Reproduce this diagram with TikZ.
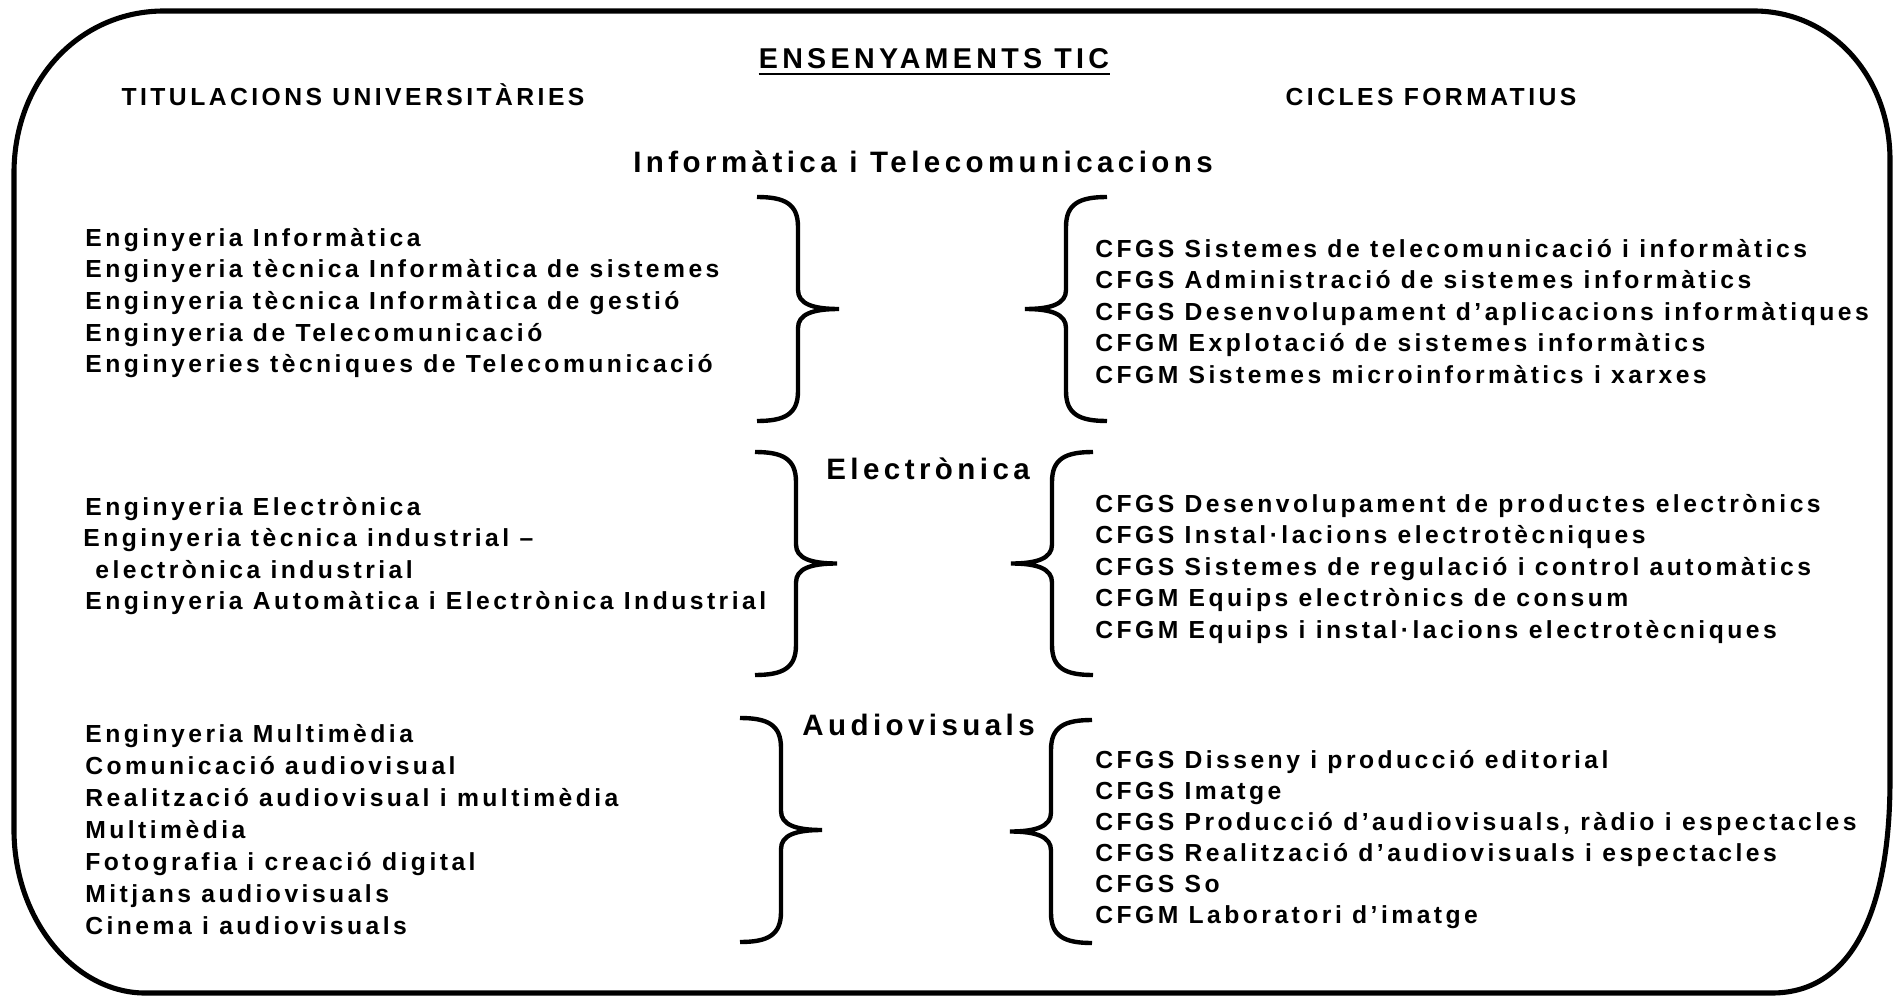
\documentclass[tikz,border=0pt]{standalone}
\usepackage{fontspec}
\setmainfont{Liberation Sans}
\usetikzlibrary{calc}

\tikzset{
  item/.style={anchor=base west, inner sep=0pt,
    font=\fontsize{14.05}{17}\selectfont\bfseries\addfontfeature{LetterSpace=14}},
  heading/.style={anchor=base west, inner sep=0pt,
    font=\fontsize{16.8}{20}\selectfont\bfseries\addfontfeature{LetterSpace=15}},
  bracestroke/.style={line width=2.5pt},
  frame/.style={line width=2.9pt},
}

% curly brace: #1 top end, #2 height, #3 side (1 = points right, -1 = points left)
\newcommand{\curly}[3]{%
  \begin{scope}[shift={(#1)}, xscale=#3]
    \draw[bracestroke] (0,0) .. controls (28,0) and (41,7) .. (41,30)
      -- (41,#2/2-19) .. controls (41,#2/2-5) and (56,#2/2) .. (82,#2/2)
      .. controls (56,#2/2) and (41,#2/2+5) .. (41,#2/2+19)
      -- (41,#2-30) .. controls (41,#2-7) and (28,#2) .. (0,#2);
  \end{scope}}

\begin{document}
\begin{tikzpicture}[x=0.02cm, y=-0.02cm]
  \useasboundingbox (0,0) rectangle (1898,997);

  % outer frame
  \draw[frame] (164,11) -- (1754,11)
    .. controls (1830,11) and (1890,75) .. (1890,160)
    -- (1890,780) .. controls (1890,905) and (1855,993) .. (1772,993)
    -- (145,993) .. controls (75,993) and (14,920) .. (14,830)
    -- (14,173) .. controls (14,80) and (80,11) .. (164,11) -- cycle;

  % titles
  \node[heading, anchor=base, font=\fontsize{16.3}{20}\selectfont\bfseries\addfontfeature{LetterSpace=15}]
    (title) at (934,69) {ENSENYAMENTS TIC};
  \draw[line width=1.7pt] ($(title.base west)+(0,5)$) -- ($(title.base east)+(0,5)$);
  \node[item, anchor=base] (uni) at (353,106) {TITULACIONS UNIVERSITÀRIES};
  \node[item, anchor=base] (cf)  at (1431,106) {CICLES FORMATIUS};

  % area headings
  \node[heading] (area1) at (633,173) {Informàtica i Telecomunicacions};
  \node[heading] (area2) at (826,479) {Electrònica};
  \node[heading] (area3) at (802,735) {Audiovisuals};

  % brace ends
  \coordinate (lb1) at (757,197);
  \coordinate (lb2) at (755,452);
  \coordinate (lb3) at (740,718);
  \coordinate (rb1) at (1107,197);
  \coordinate (rb2) at (1093,452);
  \coordinate (rb3) at (1092,720);

  \curly{lb1}{224}{1}
  \curly{lb2}{223}{1}
  \curly{lb3}{224}{1}
  \curly{rb1}{224}{-1}
  \curly{rb2}{223}{-1}
  \curly{rb3}{223}{-1}

  % university degrees
  \foreach \t [count=\i] in {Enginyeria Informàtica,
      Enginyeria tècnica Informàtica de sistemes,
      Enginyeria tècnica Informàtica de gestió,
      Enginyeria de Telecomunicació,
      Enginyeries tècniques de Telecomunicació}
    \node[item] (uni1-\i) at (85,246+31.7*\i-31.7) {\t};

  \foreach \x/\t [count=\i] in {85/Enginyeria Electrònica,
      83/Enginyeria tècnica industrial –,
      95/electrònica industrial,
      85/Enginyeria Automàtica i Electrònica Industrial}
    \node[item] (uni2-\i) at (\x,515.5+31.3*\i-31.3) {\t};

  \foreach \t [count=\i] in {Enginyeria Multimèdia,
      Comunicació audiovisual,
      Realització audiovisual i multimèdia,
      Multimèdia,
      Fotografia i creació digital,
      Mitjans audiovisuals,
      Cinema i audiovisuals}
    \node[item] (uni3-\i) at (85,742+32*\i-32) {\t};

  % vocational courses
  \foreach \t [count=\i] in {CFGS Sistemes de telecomunicació i informàtics,
      CFGS Administració de sistemes informàtics,
      CFGS Desenvolupament d’aplicacions informàtiques,
      CFGM Explotació de sistemes informàtics,
      CFGM Sistemes microinformàtics i xarxes}
    \node[item] (cf1-\i) at (1095,257+31.5*\i-31.5) {\t};

  \foreach \t [count=\i] in {CFGS Desenvolupament de productes electrònics,
      CFGS Instal·lacions electrotècniques,
      CFGS Sistemes de regulació i control automàtics,
      CFGM Equips electrònics de consum,
      CFGM Equips i instal·lacions electrotècniques}
    \node[item] (cf2-\i) at (1095,512+31.5*\i-31.5) {\t};

  \foreach \t [count=\i] in {CFGS Disseny i producció editorial,
      CFGS Imatge,
      {CFGS Producció d’audiovisuals, ràdio i espectacles},
      CFGS Realització d’audiovisuals i espectacles,
      CFGS So,
      CFGM Laboratori d’imatge}
    \node[item] (cf3-\i) at (1095,768+31*\i-31) {\t};
\end{tikzpicture}
\end{document}
